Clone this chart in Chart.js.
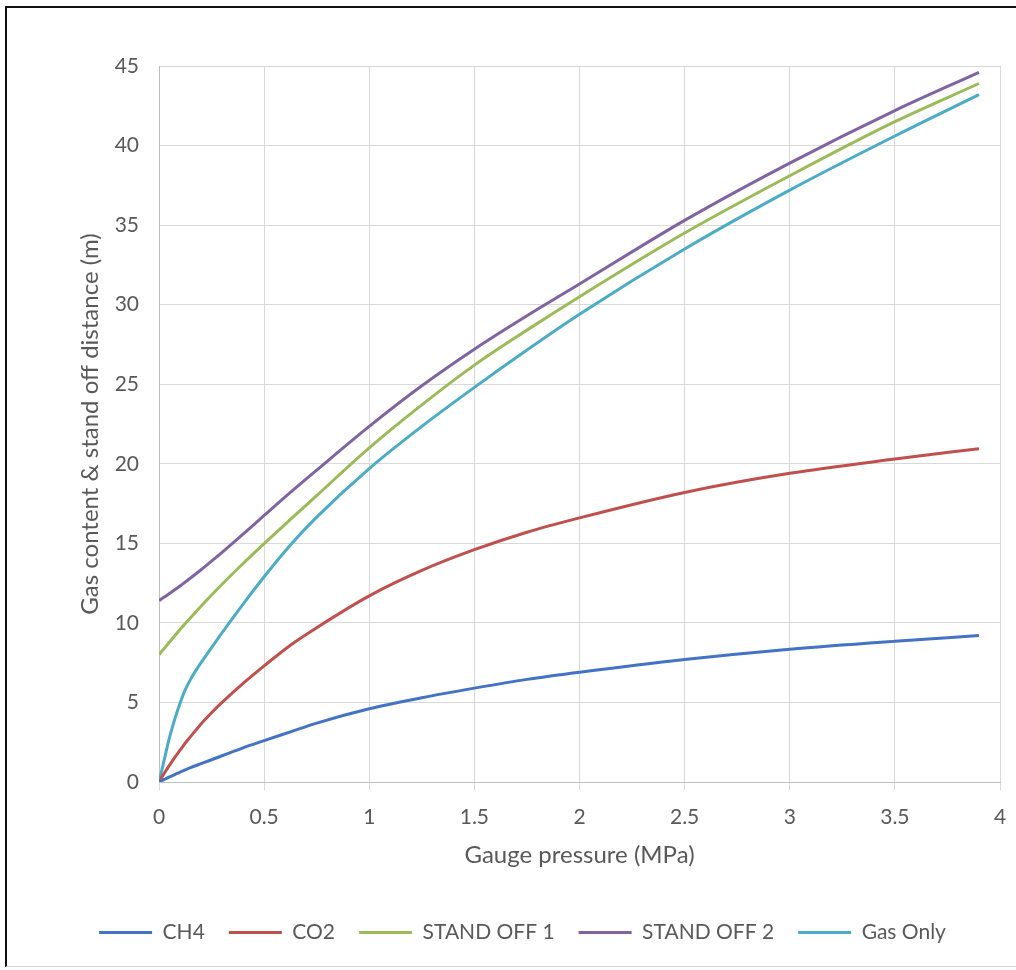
<!DOCTYPE html>
<html>
<head>
<meta charset="utf-8">
<title>Gas content & stand off distance</title>
<script src="https://cdn.jsdelivr.net/npm/chart.js@4.4.1/dist/chart.umd.min.js"></script>
<style>
    html, body { margin: 0; padding: 0; background: #fff; overflow: hidden; }
    body { width: 1016px; height: 970px; position: relative; }
    #frame {
        position: absolute; left: 5px; top: 6px; width: 1060px; height: 958px;
        border-left: 2px solid #111; border-top: 2px solid #111; border-bottom: 1px solid #d4d4d4;
    }
    #gasChart { position: absolute; left: 5px; top: 7px; }
</style>
</head>
<body>
<div id="frame"></div>
<canvas id="gasChart" width="1030" height="959"></canvas>
<script>
// Gauge pressure samples (MPa) shared by every series
const pressure = [0, 0.025, 0.05, 0.075, 0.1, 0.125, 0.15, 0.2, 0.25, 0.3, 0.4, 0.5,
    0.625, 0.75, 1, 1.25, 1.5, 1.75, 2, 2.5, 3, 3.5, 3.9];

// Series values (m)
const ch4 = [0, 0.16, 0.32, 0.47, 0.62, 0.76, 0.9, 1.15, 1.4, 1.65, 2.15, 2.6,
    3.15, 3.7, 4.6, 5.3, 5.9, 6.45, 6.9, 7.7, 8.35, 8.85, 9.2];
const co2 = [0, 0.55, 1.05, 1.55, 2.0, 2.45, 2.85, 3.65, 4.35, 5.0, 6.2, 7.3,
    8.6, 9.7, 11.7, 13.3, 14.6, 15.7, 16.6, 18.2, 19.4, 20.3, 20.95];
const standOff1 = [8.0, 8.4, 8.8, 9.19, 9.58, 9.96, 10.33, 11.05, 11.75, 12.43, 13.73, 14.98,
    16.5, 18.0, 21.0, 23.7, 26.2, 28.4, 30.5, 34.5, 38.1, 41.5, 43.9];
const standOff2 = [11.4, 11.62, 11.85, 12.08, 12.32, 12.57, 12.82, 13.34, 13.88, 14.43, 15.58, 16.75,
    18.2, 19.6, 22.35, 24.9, 27.2, 29.3, 31.3, 35.3, 38.9, 42.2, 44.6];
const gasOnly = [0, 1.4, 2.8, 3.95, 4.95, 5.8, 6.45, 7.5, 8.45, 9.38, 11.18, 12.9,
    14.9, 16.65, 19.7, 22.35, 24.8, 27.15, 29.4, 33.5, 37.2, 40.6, 43.2];

// Tick labels
const xTicks = [0, 0.5, 1, 1.5, 2, 2.5, 3, 3.5, 4];
const xTickLabels = ['0', '0.5', '1', '1.5', '2', '2.5', '3', '3.5', '4'];
const yTicks = [0, 5, 10, 15, 20, 25, 30, 35, 40, 45];
const yTickLabels = ['0', '5', '10', '15', '20', '25', '30', '35', '40', '45'];

const seriesNames = ['CH4', 'CO2', 'STAND OFF 1', 'STAND OFF 2', 'Gas Only'];
const seriesValues = [ch4, co2, standOff1, standOff2, gasOnly];
const seriesColors = ['#4472C4', '#C0504D', '#9BBB59', '#8064A2', '#4BACC6'];

const textGray = '#595959';
const gridGray = '#d9d9d9';

// Build x/y points for each series
function toPoints(values) {
    return values.map((v, i) => ({ x: pressure[i], y: v }));
}

function initChart() {
    const ctx = document.getElementById('gasChart');
    new Chart(ctx, {
        type: 'line',
        data: {
            datasets: seriesNames.map((name, i) => ({
                label: name,
                data: toPoints(seriesValues[i]),
                borderColor: seriesColors[i],
                backgroundColor: seriesColors[i],
                borderWidth: 3,
                pointRadius: 0,
                pointHoverRadius: 0,
                cubicInterpolationMode: 'monotone',
                fill: false
            }))
        },
        options: {
            responsive: false,
            animation: false,
            devicePixelRatio: 1,
            layout: {
                padding: { left: 40, right: 35, top: 59, bottom: 13 }
            },
            plugins: {
                tooltip: { enabled: false },
                legend: {
                    position: 'bottom',
                    labels: {
                        usePointStyle: true,
                        pointStyle: 'line',
                        pointStyleWidth: 53,
                        padding: 24,
                        color: textGray,
                        font: { family: 'Lato', size: 21 }
                    }
                }
            },
            scales: {
                x: {
                    type: 'linear',
                    min: 0,
                    max: 4,
                    afterFit: axis => { axis.height = 116; },
                    afterBuildTicks: axis => { axis.ticks = xTicks.map(v => ({ value: v })); },
                    grid: { color: gridGray, lineWidth: 1, tickLength: 8, drawTicks: true },
                    border: { color: '#bfbfbf' },
                    ticks: {
                        padding: 15,
                        color: textGray,
                        font: { family: 'Lato', size: 21 },
                        callback: (value, index) => xTickLabels[index]
                    },
                    title: {
                        display: true,
                        text: 'Gauge pressure (MPa)',
                        color: textGray,
                        font: { family: 'Lato', size: 24 },
                        padding: { top: 0, bottom: 28 }
                    }
                },
                y: {
                    min: 0,
                    max: 45,
                    afterFit: axis => { axis.width = 114; },
                    afterBuildTicks: axis => { axis.ticks = yTicks.map(v => ({ value: v })); },
                    grid: { color: gridGray, lineWidth: 1, drawTicks: false },
                    border: { color: '#bfbfbf' },
                    ticks: {
                        padding: 20,
                        color: textGray,
                        font: { family: 'Lato', size: 21 },
                        callback: (value, index) => yTickLabels[index]
                    },
                    title: {
                        display: true,
                        text: 'Gas content & stand off distance (m)',
                        color: textGray,
                        font: { family: 'Lato', size: 24 },
                        padding: { top: 31, bottom: 0 }
                    }
                }
            }
        }
    });
}

document.addEventListener('DOMContentLoaded', initChart);
</script>
</body>
</html>
